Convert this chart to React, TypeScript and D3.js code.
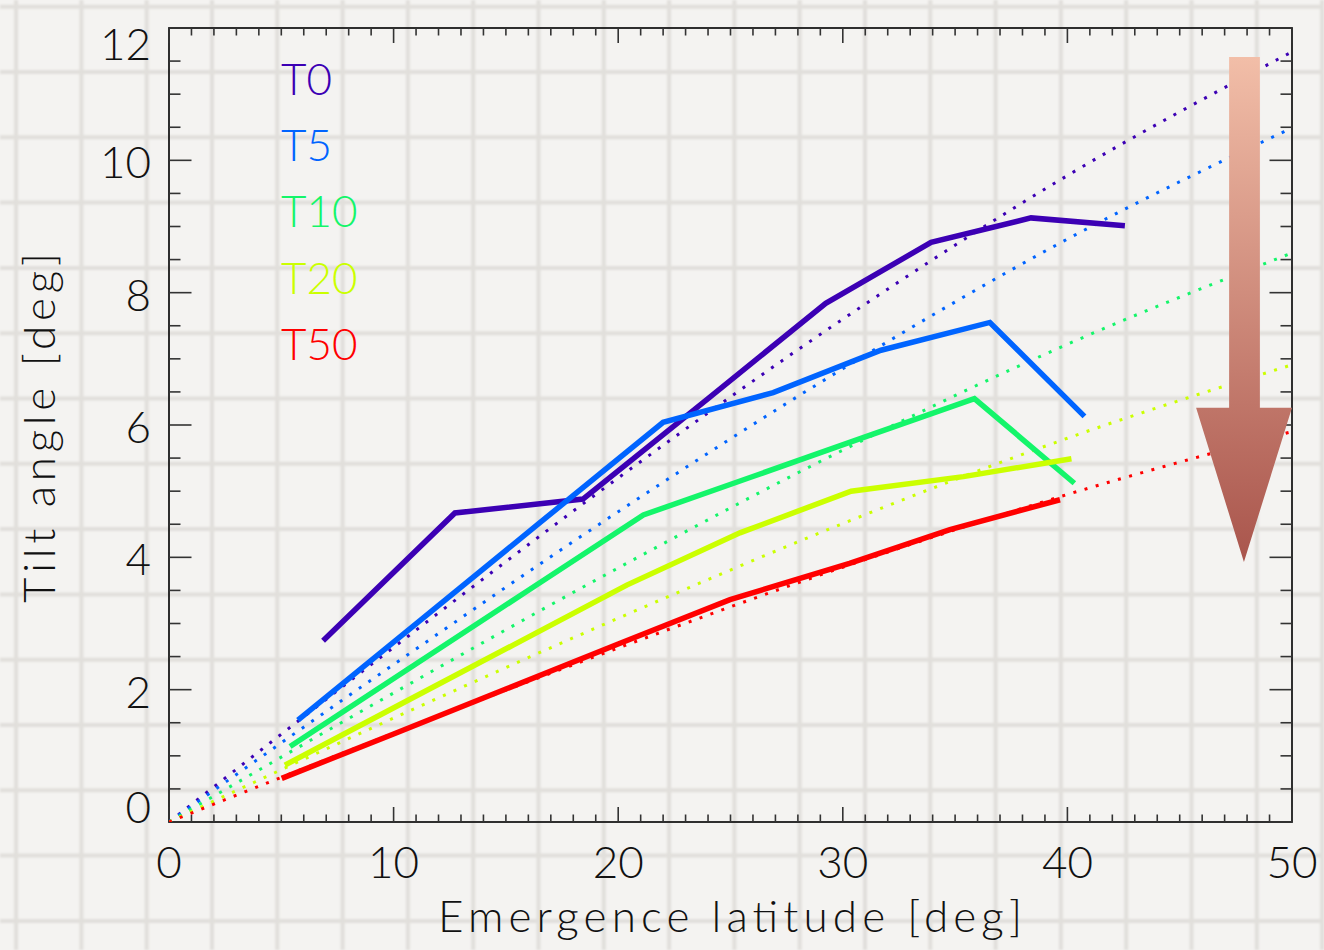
import { useEffect, useRef } from "react";
import * as d3 from "d3";

// emergence latitude [deg] and tilt angle [deg] per run
const latT0 = [6.86, 12.73, 18.43, 24.0, 29.24, 33.93, 38.38, 42.56];
const tiltT0 = [2.74, 4.67, 4.88, 6.4, 7.84, 8.76, 9.13, 9.01];
const latT5 = [5.74, 11.2, 16.5, 22.0, 26.9, 31.7, 36.55, 40.76];
const tiltT5 = [1.54, 3.05, 4.52, 6.04, 6.49, 7.13, 7.55, 6.13];
const latT10 = [5.39, 10.6, 15.9, 21.12, 25.9, 30.9, 35.86, 40.31];
const tiltT10 = [1.14, 2.3, 3.48, 4.64, 5.21, 5.81, 6.4, 5.12];
const latT20 = [5.16, 10.2, 15.3, 20.38, 25.42, 30.37, 35.37, 40.18];
const tiltT20 = [0.86, 1.76, 2.67, 3.58, 4.37, 5.0, 5.22, 5.49];
const latT50 = [5.02, 10.0, 15.0, 20.0, 24.98, 30.3, 34.77, 39.67];
const tiltT50 = [0.66, 1.33, 2.01, 2.69, 3.36, 3.91, 4.42, 4.87];

// dotted fit curves, read at these latitudes
const fitLat = [0, 10, 20, 30, 40, 50];
const fitT0 = [0, 2.64, 5.2, 7.6, 9.77, 11.64];
const fitT5 = [0, 2.38, 4.69, 6.85, 8.81, 10.49];
const fitT10 = [0, 1.95, 3.84, 5.62, 7.22, 8.6];
const fitT20 = [0, 1.57, 3.08, 4.51, 5.8, 6.91];
const fitT50 = [0, 1.34, 2.63, 3.85, 4.95, 5.9];

const seriesNames = ["T0", "T5", "T10", "T20", "T50"];
const seriesColors = ["#3c00b4", "#0064ff", "#14f56a", "#cbff00", "#ff0000"];

const xTicks = [0, 10, 20, 30, 40, 50];
const yTicks = [0, 2, 4, 6, 8, 10, 12];

// arrow annotation, in data units
const arrowShaft = { x0: 47.2, x1: 48.57, top: 11.56 };
const arrowHead = { x0: 45.73, x1: 50, base: 6.26, tipX: 47.86, tipY: 3.93 };

const FONT = "Lato, 'DejaVu Sans', sans-serif";

export default function App() {
  const ref = useRef<SVGSVGElement | null>(null);

  useEffect(() => {
    if (!ref.current) return;
    const W = 1324;
    const H = 950;
    const svg = d3.select(ref.current);
    svg.selectAll("*").remove();
    svg.attr("width", W).attr("height", H).attr("viewBox", `0 0 ${W} ${H}`);

    const x = d3.scaleLinear().domain([0, 50]).range([169, 1292]);
    const y = d3.scaleLinear().domain([0, 12]).range([822, 28]);

    const defs = svg.append("defs");
    const grad = defs.append("linearGradient")
      .attr("id", "arrow-grad").attr("gradientUnits", "userSpaceOnUse")
      .attr("x1", 0).attr("x2", 0).attr("y1", y(arrowShaft.top)).attr("y2", y(arrowHead.tipY));
    grad.append("stop").attr("offset", "0%").attr("stop-color", "#f2bea8");
    grad.append("stop").attr("offset", "100%").attr("stop-color", "#a9554c");
    defs.append("clipPath").attr("id", "plot-clip")
      .append("rect").attr("x", 169).attr("y", 28).attr("width", 1123).attr("height", 794);
    defs.append("filter").attr("id", "soft")
      .append("feGaussianBlur").attr("stdDeviation", 1.1);

    // paper background
    svg.append("rect").attr("width", W).attr("height", H).attr("fill", "#f4f3f1");
    const bg = svg.append("g").attr("stroke", "#e1dfdb").attr("stroke-width", 4).attr("filter", "url(#soft)");
    bg.selectAll("line.v").data(d3.range(16.1, W, 65.3)).join("line")
      .attr("x1", (d) => d).attr("x2", (d) => d).attr("y1", 0).attr("y2", H);
    bg.selectAll("line.h").data(d3.range(6.7, H, 65.3)).join("line")
      .attr("y1", (d) => d).attr("y2", (d) => d).attr("x1", 0).attr("x2", W);

    // axes box + ticks (inward on all four sides)
    const ax = svg.append("g").attr("stroke", "#333").attr("stroke-width", 1.6).attr("fill", "none");
    ax.append("rect").attr("x", 169).attr("y", 28).attr("width", 1123).attr("height", 794)
      .attr("stroke", "#1a1a1a").attr("stroke-width", 1.8);
    const xMinor = d3.range(0, 51, 1);
    const yMinor = d3.range(0, 12.01, 0.5);
    const xLen = (d: number) => (d % 10 === 0 ? 15 : 7.5);
    const yLen = (d: number) => (d % 2 === 0 ? 22.5 : 11.5);
    ax.selectAll("line.xb").data(xMinor).join("line")
      .attr("x1", (d) => x(d)).attr("x2", (d) => x(d))
      .attr("y1", 822).attr("y2", (d) => 822 - xLen(d));
    ax.selectAll("line.xt").data(xMinor).join("line")
      .attr("x1", (d) => x(d)).attr("x2", (d) => x(d))
      .attr("y1", 28).attr("y2", (d) => 28 + xLen(d));
    ax.selectAll("line.yl").data(yMinor).join("line")
      .attr("y1", (d) => y(d)).attr("y2", (d) => y(d))
      .attr("x1", 169).attr("x2", (d) => 169 + yLen(d));
    ax.selectAll("line.yr").data(yMinor).join("line")
      .attr("y1", (d) => y(d)).attr("y2", (d) => y(d))
      .attr("x1", 1292).attr("x2", (d) => 1292 - yLen(d));

    // tick labels
    const lab = svg.append("g").attr("font-family", FONT).attr("font-weight", 300)
      .attr("font-size", 44).attr("fill", "#111");
    lab.selectAll("text.x").data(xTicks).join("text")
      .attr("x", (d) => x(d)).attr("y", 878).attr("text-anchor", "middle").text((d) => d);
    lab.selectAll("text.y").data(yTicks).join("text")
      .attr("x", 151).attr("y", (d) => Math.min(Math.max(y(d) + 18, 60), 823))
      .attr("text-anchor", "end").text((d) => d);

    lab.append("text").attr("x", 438).attr("y", 932)
      .attr("textLength", 584).attr("lengthAdjust", "spacing")
      .text("Emergence latitude [deg]");
    lab.append("text").attr("transform", "translate(55,603) rotate(-90)")
      .attr("textLength", 350).attr("lengthAdjust", "spacing")
      .text("Tilt angle [deg]");

    const plot = svg.append("g").attr("clip-path", "url(#plot-clip)");
    const line = d3.line<[number, number]>().x((d) => x(d[0])).y((d) => y(d[1]));
    const fitLine = d3.line<[number, number]>().x((d) => x(d[0])).y((d) => y(d[1]))
      .curve(d3.curveMonotoneX);

    // dotted fits
    const fits = [fitT0, fitT5, fitT10, fitT20, fitT50];
    fits.forEach((vals, i) => {
      const pts = fitLat.map((v, j) => [v, vals[j]] as [number, number]);
      plot.append("path").datum(pts).attr("d", fitLine)
        .attr("fill", "none").attr("stroke", seriesColors[i])
        .attr("stroke-width", 3).attr("stroke-dasharray", "3 8.6");
    });

    const series = [
      [latT0, tiltT0], [latT5, tiltT5], [latT10, tiltT10], [latT20, tiltT20], [latT50, tiltT50],
    ];
    series.forEach(([lat, tilt], i) => {
      const pts = lat.map((v, j) => [v, tilt[j]] as [number, number]);
      plot.append("path").datum(pts).attr("d", line)
        .attr("fill", "none").attr("stroke", seriesColors[i])
        .attr("stroke-width", 5.5).attr("stroke-linejoin", "miter");
    });

    // arrow
    const arrowPts: [number, number][] = [
      [x(arrowShaft.x0), y(arrowShaft.top)],
      [x(arrowShaft.x1), y(arrowShaft.top)],
      [x(arrowShaft.x1), y(arrowHead.base)],
      [x(arrowHead.x1), y(arrowHead.base)],
      [x(arrowHead.tipX), y(arrowHead.tipY)],
      [x(arrowHead.x0), y(arrowHead.base)],
      [x(arrowShaft.x0), y(arrowHead.base)],
    ];
    svg.append("path").attr("d", d3.line()(arrowPts) + "Z").attr("fill", "url(#arrow-grad)");

    // legend
    const leg = svg.append("g").attr("font-family", FONT).attr("font-weight", 300).attr("font-size", 44);
    leg.selectAll("text").data(seriesNames).join("text")
      .attr("x", 281).attr("y", (_, i) => 95 + i * 66.2)
      .attr("fill", (_, i) => seriesColors[i]).text((d) => d);
  }, []);

  return <svg ref={ref} style={{ position: "absolute", left: 0, top: 0, display: "block" }} />;
}
